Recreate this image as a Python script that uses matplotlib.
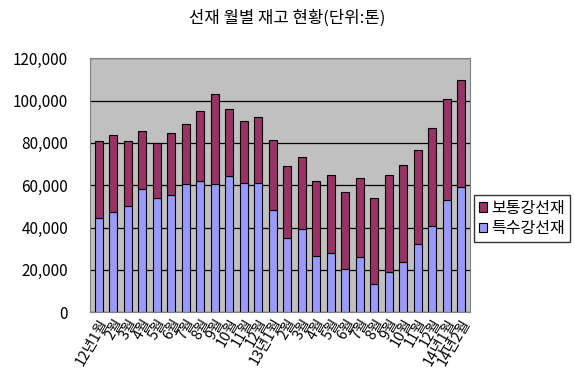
import matplotlib.pyplot as plt
import matplotlib.ticker as mticker
import numpy as np

plt.rcParams['font.family'] = ['Noto Sans CJK KR', 'DejaVu Sans']

months = ["12년1월", "2월", "3월", "4월", "5월", "6월", "7월", "8월", "9월", "10월", "11월", "12월",
          "13년1월", "2월", "3월", "4월", "5월", "6월", "7월", "8월", "9월", "10월", "11월", "12월",
          "14년1월", "14년2월"]
# 특수강선재 (bottom), total stock (top)
special = [44500, 47500, 50000, 58000, 54000, 55500, 60500, 62000, 60500, 64500, 61000, 61000,
           48500, 35000, 39500, 26500, 28000, 20500, 26000, 13500, 19000, 23500, 32000, 40500,
           53000, 59000]
total = [81000, 83500, 81000, 85500, 80000, 84500, 89000, 95000, 103000, 96000, 90500, 92000,
         81500, 69000, 73500, 62000, 65000, 57000, 63500, 54000, 65000, 69500, 76500, 87000,
         100500, 109500]
normal = [t - s for t, s in zip(total, special)]

fig = plt.figure(figsize=(5.75, 3.83), dpi=100)
ax = fig.add_axes([0.157, 0.185, 0.66, 0.663])
ax.set_facecolor('#C0C0C0')

x = np.arange(len(months))
ax.bar(x, special, width=0.55, color='#9999FF', edgecolor='black', linewidth=0.8,
       label='특수강선재', zorder=3)
ax.bar(x, normal, width=0.55, bottom=special, color='#993366', edgecolor='black',
       linewidth=0.8, label='보통강선재', zorder=3)

ax.set_ylim(0, 120000)
ax.set_xlim(-0.6, len(months) - 0.4)
ax.yaxis.set_major_locator(mticker.MultipleLocator(20000))
ax.yaxis.set_major_formatter(mticker.StrMethodFormatter('{x:,.0f}'))
ax.grid(axis='y', color='black', linewidth=0.9, zorder=1)
ax.tick_params(axis='y', length=0, labelsize=11, pad=16)
ax.tick_params(axis='x', length=0, labelsize=10.5, pad=3)
ax.set_xticks(x)
ax.set_xticklabels(months, rotation=60, ha='right', rotation_mode='anchor')
for s in ax.spines.values():
    s.set_color('#808080')

fig.suptitle('선재 월별 재고 현황(단위:톤)', y=0.975, fontsize=12)

h, l = ax.get_legend_handles_labels()
leg = fig.legend(h[::-1], l[::-1], loc='center left', bbox_to_anchor=(0.825, 0.43),
                 fontsize=11.5, frameon=True, fancybox=False, edgecolor='black',
                 handlelength=0.5, handleheight=0.5, handletextpad=0.25, borderpad=0.3,
                 labelspacing=0.2, borderaxespad=0)

fig.savefig('out.png', dpi=100)
